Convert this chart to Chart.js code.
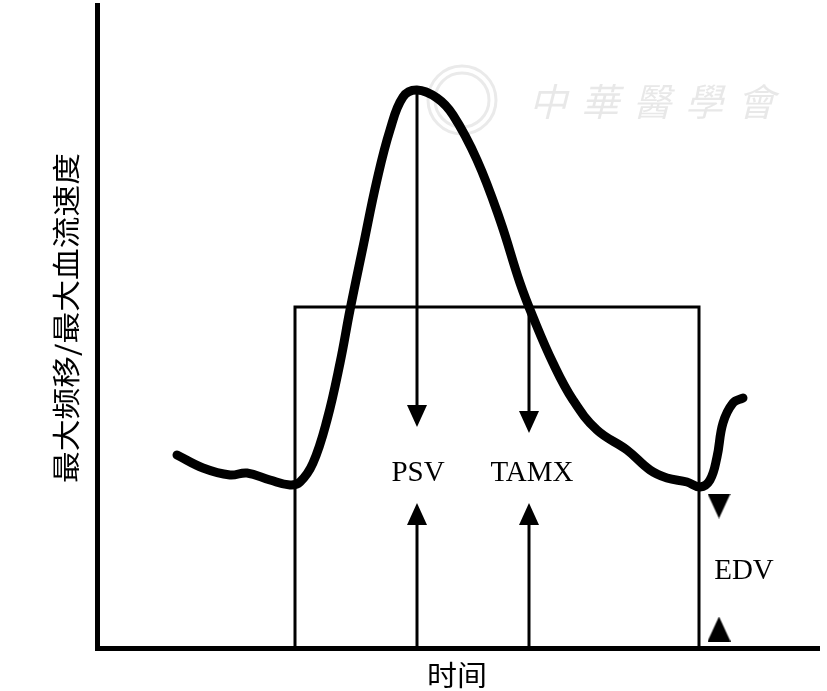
<!DOCTYPE html>
<html lang="zh">
<head>
<meta charset="UTF-8">
<title>最大频移/最大血流速度</title>
<script src="https://cdn.jsdelivr.net/npm/chart.js"></script>
<style>
  html, body { margin: 0; padding: 0; background: #fff; }
  #wrap { width: 827px; height: 691px; }
</style>
</head>
<body>
<div id="wrap"><canvas id="waveChart" width="827" height="691"></canvas></div>
<script>
// Doppler waveform, arbitrary units (time, velocity)
const waveTime     = [80, 106, 133, 150, 173, 193, 203, 216, 230, 243, 253, 266, 280, 293, 306, 320, 340, 356, 380, 403, 423, 436, 456, 476, 500, 530, 553, 570, 590, 603, 613, 620, 626, 636, 646];
const waveVelocity = [193, 180, 173, 175, 168, 163, 166, 185, 228, 285, 338, 401, 468, 518, 551, 558, 550, 533, 488, 428, 365, 331, 285, 248, 218, 198, 178, 170, 166, 161, 168, 191, 225, 245, 250];

// one cardiac cycle box (start / end of cycle, mean level)
const boxTime     = [198, 198, 602, 602];
const boxVelocity = [0, 341, 341, 0];

// PSV and TAMX arrows
const psvTime = 320;
const psvDown = [558, 232];
const psvUp   = [0, 134];
const tamxTime = 432;
const tamxDown = [341, 226];
const tamxUp   = [0, 134];

// EDV markers
const edvTime = 622;
const edvMarks = [142, 19];

const markerLabels = ['PSV', 'TAMX', 'EDV'];
const xTitle = '时间';
const yTitle = '最大频移/最大血流速度';
const watermark = '中華醫學會';

// little canvases used as arrow heads
function makeTriangle(w, h, dir) {
    const c = document.createElement('canvas');
    c.width = w; c.height = h;
    const g = c.getContext('2d');
    g.fillStyle = '#000';
    g.beginPath();
    if (dir === 'down') {
        g.moveTo(0, 0); g.lineTo(w, 0); g.lineTo(w / 2, h);
    } else {
        g.moveTo(w / 2, 0); g.lineTo(w, h); g.lineTo(0, h);
    }
    g.closePath();
    g.fill();
    return c;
}
const headDown = makeTriangle(20, 22, 'down');
const headUp = makeTriangle(20, 22, 'up');
const edvDownHead = makeTriangle(23, 25, 'down');
const edvUpHead = makeTriangle(23, 25, 'up');

function pts(xs, ys) {
    return ys.map((y, i) => ({ x: Array.isArray(xs) ? xs[i] : xs, y: y }));
}

function arrow(t, vals, head) {
    return {
        data: pts(t, vals),
        showLine: true,
        borderColor: '#000',
        borderWidth: 3,
        tension: 0,
        pointRadius: [0, 10],
        pointStyle: head,
        clip: false
    };
}

// text, titles and the faint watermark
const textPlugin = {
    id: 'figureText',
    beforeDatasetsDraw(chart) {
        const ctx = chart.ctx;
        ctx.save();
        ctx.strokeStyle = 'rgba(150,150,150,0.2)';
        ctx.lineWidth = 3;
        ctx.beginPath();
        ctx.arc(462, 100, 34, 0, Math.PI * 2);
        ctx.stroke();
        ctx.beginPath();
        ctx.arc(462, 100, 27, 0, Math.PI * 2);
        ctx.stroke();
        ctx.fillStyle = 'rgba(150,150,150,0.22)';
        ctx.font = 'italic 38px "Noto Sans CJK TC"';
        ctx.textAlign = 'center';
        ctx.textBaseline = 'middle';
        [...watermark].forEach((ch, i) => ctx.fillText(ch, 548 + i * 52, 102));
        ctx.restore();
    },
    afterDatasetsDraw(chart) {
        const ctx = chart.ctx;
        const x = chart.scales.x, y = chart.scales.y;
        ctx.save();
        ctx.fillStyle = '#000';
        ctx.textAlign = 'center';
        ctx.textBaseline = 'alphabetic';
        ctx.font = '29px "Liberation Serif", "Times New Roman", serif';
        ctx.fillText(markerLabels[0], x.getPixelForValue(psvTime + 1), y.getPixelForValue(167));
        ctx.fillText(markerLabels[1], x.getPixelForValue(tamxTime + 3), y.getPixelForValue(167));
        ctx.fillText(markerLabels[2], x.getPixelForValue(647), y.getPixelForValue(69));

        // axis titles, stretched a little like the original
        ctx.font = '28px "Noto Sans CJK SC"';
        ctx.textBaseline = 'middle';
        let w = ctx.measureText(xTitle).width;
        ctx.save();
        ctx.translate(457, 675);
        ctx.scale(60 / w, 1);
        ctx.fillText(xTitle, 0, 0);
        ctx.restore();

        w = ctx.measureText(yTitle).width;
        ctx.save();
        ctx.translate(66, 318);
        ctx.rotate(-Math.PI / 2);
        ctx.scale(330 / w, 1);
        ctx.fillText(yTitle, 0, 0);
        ctx.restore();
        ctx.restore();
    }
};

new Chart(document.getElementById('waveChart'), {
    type: 'scatter',
    data: {
        datasets: [
            {
                data: pts(waveTime, waveVelocity),
                showLine: true,
                borderColor: '#000',
                borderWidth: 9,
                borderCapStyle: 'round',
                borderJoinStyle: 'round',
                tension: 0.4,
                pointRadius: 0,
                clip: false
            },
            {
                data: pts(boxTime, boxVelocity),
                showLine: true,
                borderColor: '#000',
                borderWidth: 3,
                tension: 0,
                pointRadius: 0,
                clip: false
            },
            arrow(psvTime, psvDown, headDown),
            arrow(psvTime, psvUp, headUp),
            arrow(tamxTime, tamxDown, headDown),
            arrow(tamxTime, tamxUp, headUp),
            {
                data: pts(edvTime, edvMarks),
                showLine: false,
                pointRadius: 10,
                pointStyle: [edvDownHead, edvUpHead],
                clip: false
            }
        ]
    },
    options: {
        responsive: false,
        animation: false,
        devicePixelRatio: 1,
        layout: { autoPadding: false, padding: { left: 97, top: 5, right: 8, bottom: 43 } },
        plugins: { legend: { display: false }, tooltip: { enabled: false } },
        scales: {
            x: {
                type: 'linear', min: 0, max: 722,
                grid: { display: false, drawTicks: false },
                ticks: { display: false },
                border: { display: true, color: '#000', width: 5 }
            },
            y: {
                type: 'linear', min: 0, max: 643,
                grid: { display: false, drawTicks: false },
                ticks: { display: false },
                border: { display: true, color: '#000', width: 5 }
            }
        }
    },
    plugins: [textPlugin]
});
</script>
</body>
</html>
